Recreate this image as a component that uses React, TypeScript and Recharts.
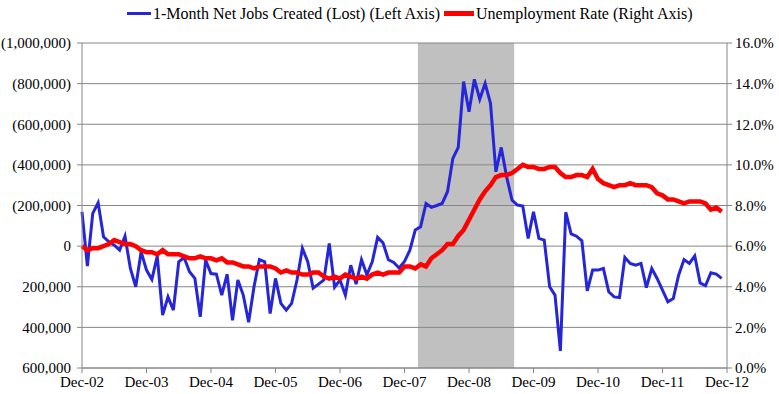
import React from 'react';
import {
  ComposedChart,
  Line,
  XAxis,
  YAxis,
  Legend,
  ReferenceArea,
  ReferenceLine,
} from 'recharts';

const BLUE = '#2626d9';
const RED = '#ff0000';
const GRID = '#868686';
const FONT = 'Liberation Serif, Times New Roman, serif';

// monthly, Dec-02 .. Nov-12
const xTickLabels = ['Dec-02', 'Dec-03', 'Dec-04', 'Dec-05', 'Dec-06', 'Dec-07', 'Dec-08', 'Dec-09', 'Dec-10', 'Dec-11', 'Dec-12'];

const netJobs = [
  -169000,
  98000, -161000, -213000, -46000, -21000, -5000, 20000, -49000, 110000, 200000, 28000, 118000,
  164000, 49000, 340000, 250000, 315000, 77000, 56000, 126000, 159000, 348000, 69000, 135000,
  138000, 241000, 138000, 365000, 167000, 241000, 375000, 200000, 66000, 77000, 332000, 159000,
  282000, 315000, 282000, 167000, 11000, 77000, 207000, 187000, 167000, -13000, 202000, 167000,
  241000, 94000, 187000, 67000, 141000, 77000, -43000, -16000, 67000, 80000, 108000, 75000,
  20000, -79000, -95000, -210000, -191000, -200000, -210000, -268000, -432000, -486000, -810000, -662000,
  -821000, -723000, -801000, -703000, -366000, -486000, -341000, -227000, -202000, -197000, -38000, -169000,
  -38000, -30000, 200000, 241000, 516000, -167000, -60000, -49000, -26000, 220000, 118000, 118000,
  110000, 225000, 250000, 253000, 56000, 85000, 94000, 85000, 204000, 110000, 159000, 217000,
  274000, 258000, 143000, 66000, 85000, 48000, 181000, 195000, 131000, 138000, 159000,
];

const unemployment = [
  6.0,
  5.8, 5.9, 5.9, 6.0, 6.1, 6.3, 6.2, 6.1, 6.1, 6.0, 5.8, 5.7,
  5.7, 5.6, 5.8, 5.6, 5.6, 5.6, 5.5, 5.4, 5.4, 5.5, 5.4, 5.4,
  5.3, 5.4, 5.2, 5.2, 5.1, 5.0, 5.0, 4.9, 5.0, 5.0, 5.0, 4.9,
  4.7, 4.8, 4.7, 4.7, 4.6, 4.6, 4.7, 4.7, 4.5, 4.4, 4.5, 4.4,
  4.6, 4.5, 4.4, 4.5, 4.4, 4.6, 4.7, 4.6, 4.7, 4.7, 4.7, 5.0,
  5.0, 4.9, 5.1, 5.0, 5.4, 5.6, 5.8, 6.1, 6.1, 6.5, 6.8, 7.3,
  7.8, 8.3, 8.7, 9.0, 9.4, 9.5, 9.5, 9.6, 9.8, 10.0, 9.9, 9.9,
  9.8, 9.8, 9.9, 9.9, 9.6, 9.4, 9.4, 9.5, 9.5, 9.4, 9.8, 9.3,
  9.1, 9.0, 8.9, 9.0, 9.0, 9.1, 9.0, 9.0, 9.0, 8.9, 8.6, 8.5,
  8.3, 8.3, 8.2, 8.1, 8.2, 8.2, 8.2, 8.1, 7.8, 7.9, 7.7,
];

const jobTicks = [-1000000, -800000, -600000, -400000, -200000, 0, 200000, 400000, 600000];
const rateTicks = [0, 2, 4, 6, 8, 10, 12, 14, 16];
const xTicks = xTickLabels.map((_, i) => i * 12);

// shaded recession band, in months from Dec-02
const recessionStart = 62.5;
const recessionEnd = 80.4;

const data = netJobs.map((jobs, i) => ({ idx: i, jobs, rate: unemployment[i] }));

const fmtJobs = (v: number) => {
  if (v === 0) return '0';
  const s = Math.abs(v).toLocaleString('en-US');
  return v < 0 ? `(${s})` : s;
};

const tickStyle = { fontSize: 15, fill: '#000', fontFamily: FONT };

function LegendContent() {
  const item = (color: string, width: number, len: number, label: string) => (
    <span style={{ display: 'inline-flex', alignItems: 'center' }}>
      <span style={{ display: 'inline-block', width: len, height: width, background: color, marginRight: 2 }} />
      <span>{label}</span>
    </span>
  );
  return (
    <div style={{ display: 'flex', gap: 4, fontFamily: FONT, fontSize: 16, lineHeight: '19px', color: '#000', paddingLeft: 127 }}>
      {item(BLUE, 3, 24, '1-Month Net Jobs Created (Lost) (Left Axis)')}
      {item(RED, 5, 30, 'Unemployment Rate (Right Axis)')}
    </div>
  );
}

export default function App() {
  return (
    <div style={{ position: 'absolute', left: 0, top: 0, background: '#fff' }}>
      <ComposedChart width={779} height={394} data={data} margin={{ top: 24, right: 0, bottom: 0, left: 0 }}>
        <XAxis
          dataKey="idx"
          type="number"
          domain={[0, 120]}
          ticks={xTicks}
          tickFormatter={(v: number) => xTickLabels[v / 12]}
          tick={tickStyle}
          tickSize={5}
          tickMargin={3}
          height={26}
          stroke={GRID}
          xAxisId="x"
        />
        <YAxis
          yAxisId="jobs"
          reversed
          domain={[-1000000, 600000]}
          ticks={jobTicks}
          tickFormatter={fmtJobs}
          tick={tickStyle}
          tickSize={5}
          tickMargin={6}
          width={82}
          stroke={GRID}
          interval={0}
        />
        <YAxis
          yAxisId="rate"
          orientation="right"
          domain={[0, 16]}
          ticks={rateTicks}
          tickFormatter={(v: number) => `${v.toFixed(1)}%`}
          tick={{ ...tickStyle, textAnchor: 'start' }}
          tickSize={5}
          tickMargin={3}
          width={52}
          stroke={GRID}
          interval={0}
        />
        <Legend verticalAlign="top" content={LegendContent} wrapperStyle={{ top: 4, left: 0, width: 779 }} />
        <ReferenceArea
          xAxisId="x"
          yAxisId="jobs"
          x1={recessionStart}
          x2={recessionEnd}
          y1={-1000000}
          y2={600000}
          fill="#c0c0c0"
          fillOpacity={1}
          stroke="none"
        />
        {jobTicks.map((t) => (
          <ReferenceLine key={t} xAxisId="x" yAxisId="jobs" y={t} stroke={GRID} strokeWidth={1} />
        ))}
        <Line
          xAxisId="x"
          yAxisId="jobs"
          type="linear"
          dataKey="jobs"
          stroke={BLUE}
          strokeWidth={3}
          dot={false}
          isAnimationActive={false}
        />
        <Line
          xAxisId="x"
          yAxisId="rate"
          type="linear"
          dataKey="rate"
          stroke={RED}
          strokeWidth={4.5}
          dot={false}
          isAnimationActive={false}
        />
      </ComposedChart>
    </div>
  );
}
